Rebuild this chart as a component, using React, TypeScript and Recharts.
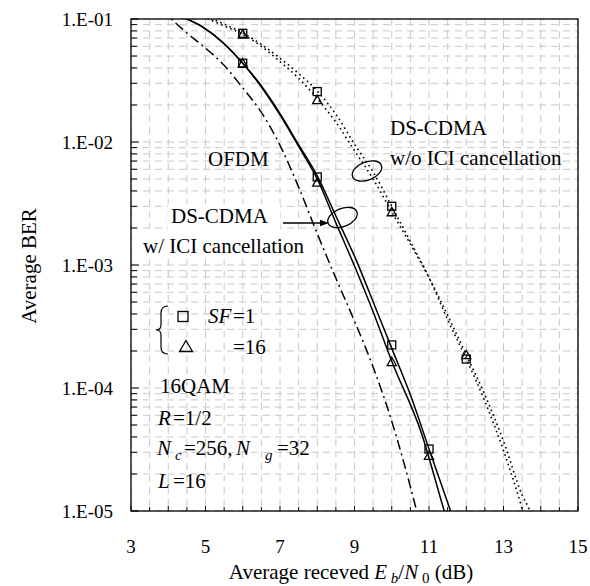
import React from 'react'
import { ComposedChart, Line, Scatter, XAxis, YAxis, CartesianGrid } from 'recharts'

const FONT = "'Liberation Serif', 'Times New Roman', Times, serif"

// plot box in page pixels (margin + axis sizes below give the same box)
const PL = 131
const PT = 19
const PR = 578
const PB = 511

// OFDM (dash-dot)
const ofdmDb = [3.8, 4.5, 5.0, 5.5, 6.0, 6.5, 7.0, 7.5, 8.0, 8.5, 9.0, 9.5, 10.0, 10.3, 10.67, 10.9]
const ofdmBer = [0.12, 0.077, 0.058, 0.042, 0.0275, 0.0174, 0.0094, 0.0043, 0.0018, 0.00078, 0.00035, 0.000148, 0.0000537, 0.0000263, 0.00001, 0.0000053]

// DS-CDMA w/ ICI cancellation (solid)
const icSf1Db = [4.0, 4.3, 4.9, 5.5, 6.0, 6.5, 7.0, 7.5, 8.0, 8.5, 9.0, 9.55, 10.0, 10.5, 11.0, 11.58, 11.8]
const icSf1Ber = [0.12, 0.107, 0.087, 0.063, 0.0437, 0.0285, 0.017, 0.0095, 0.0053, 0.0025, 0.00118, 0.00046, 0.00021, 0.000088, 0.000032, 0.00001, 0.0000065]
const icSf16Db = [4.0, 4.3, 4.9, 5.5, 6.0, 6.5, 7.0, 7.5, 8.0, 8.5, 9.0, 9.55, 10.0, 10.8, 11.41, 11.6]
const icSf16Ber = [0.12, 0.107, 0.087, 0.063, 0.0437, 0.028, 0.0166, 0.0092, 0.005, 0.0022, 0.00098, 0.00038, 0.000165, 0.0000427, 0.00001, 0.0000065]

// DS-CDMA w/o ICI cancellation (dotted)
const noSf1Db = [4.9, 5.5, 6.0, 6.5, 7.0, 7.5, 8.0, 8.5, 9.0, 9.5, 10.0, 10.5, 11.0, 11.5, 12.0, 12.5, 13.0, 13.5, 13.7]
const noSf1Ber = [0.108, 0.091, 0.077, 0.062, 0.048, 0.036, 0.026, 0.0168, 0.0096, 0.0057, 0.003, 0.00155, 0.00079, 0.00036, 0.000172, 0.000078, 0.000031, 0.0000105, 0.0000065]
const noSf16Db = [4.8, 5.5, 6.0, 6.5, 7.0, 7.5, 8.0, 8.5, 9.0, 9.5, 10.0, 10.5, 11.0, 11.5, 12.0, 12.5, 13.0, 13.5, 13.71, 13.9]
const noSf16Ber = [0.108, 0.088, 0.075, 0.06, 0.045, 0.033, 0.0225, 0.0145, 0.0085, 0.005, 0.0027, 0.00148, 0.00079, 0.00039, 0.000186, 0.000088, 0.000037, 0.0000135, 0.00001, 0.0000065]

// simulated points
const sqIcDb = [6, 8, 10, 11]
const sqIcBer = [0.0437, 0.0052, 0.000224, 0.0000319]
const triIcDb = [6, 8, 10, 11]
const triIcBer = [0.0437, 0.0047, 0.000163, 0.0000282]
const sqNoDb = [6, 8, 10, 12]
const sqNoBer = [0.0765, 0.0257, 0.003, 0.000172]
const triNoDb = [6, 8, 10, 12]
const triNoBer = [0.075, 0.022, 0.0027, 0.000186]

const xTicks: number[] = []
for (let v = 3; v <= 15; v += 0.5) xTicks.push(v)
const yTicks: number[] = []
for (let e = -5; e <= -2; e++) for (let m = 1; m <= 9; m++) yTicks.push(Number((m * Math.pow(10, e)).toPrecision(3)))
yTicks.push(0.1)

const pts = (xs: number[], ys: number[]) => xs.map((x, i) => ({ x, y: ys[i] }))

const YTick = (props: any) => {
  const { y, payload } = props
  const e = Math.log10(payload.value)
  const major = Math.abs(e - Math.round(e)) < 1e-6
  return (
    <g>
      <line x1={PL} x2={PL + (major ? 8 : 6)} y1={y} y2={y} stroke="#000" strokeWidth={1} />
      {major && (
        <text x={113} y={y + 6.5} textAnchor="end" fontSize={19} fontFamily={FONT} fill="#000">
          {`1.E-0${-Math.round(e)}`}
        </text>
      )}
    </g>
  )
}

const XTick = (props: any) => {
  const { x, payload } = props
  const v = payload.value
  const whole = Number.isInteger(v)
  return (
    <g>
      <line x1={x} x2={x} y1={PB} y2={PB - (whole ? 5 : 4)} stroke="#000" strokeWidth={1} />
      {whole && v % 2 === 1 && (
        <text x={x} y={553} textAnchor="middle" fontSize={19} fontFamily={FONT} fill="#000">
          {v}
        </text>
      )}
    </g>
  )
}

const SquareMark = (p: any) => (
  <rect x={p.cx - 4} y={p.cy - 4} width={8} height={8} fill="none" stroke="#000" strokeWidth={1.3} />
)
const TriMark = (p: any) => (
  <path
    d={`M${p.cx},${p.cy - 4.6} L${p.cx + 4.6},${p.cy + 3.8} L${p.cx - 4.6},${p.cy + 3.8} Z`}
    fill="none"
    stroke="#000"
    strokeWidth={1.3}
  />
)

function Notes() {
  const t = { fontFamily: FONT, fontSize: 21, fill: '#000' }
  const sub = { fontSize: 15, fontStyle: 'italic' as const }
  return (
    <svg width={590} height={586} style={{ position: 'absolute', left: 0, top: 0, pointerEvents: 'none' }}>
      <rect x={PL} y={PT} width={PR - PL} height={PB - PT} fill="none" stroke="#000" strokeWidth={1.3} />

      {/* white boxes behind the left label */}
      <rect x={168} y={204} width={112} height={25} fill="#fff" />
      <rect x={140} y={229} width={165} height={29} fill="#fff" />

      <text {...t} x={208} y={166}>OFDM</text>

      <text {...t} x={390} y={135}>DS-CDMA</text>
      <text {...t} x={390} y={165}>w/o ICI cancellation</text>
      <ellipse cx={367} cy={171} rx={15.5} ry={9} transform="rotate(-22 367 171)" fill="none" stroke="#000" strokeWidth={1.3} />

      <text {...t} x={171} y={223}>DS-CDMA</text>
      <text {...t} x={143} y={253}>w/ ICI cancellation</text>
      <line x1={283} y1={223} x2={322} y2={223} stroke="#000" strokeWidth={1.3} />
      <path d="M329,223 L320,219.8 L320,226.2 Z" fill="#000" />
      <ellipse cx={342.5} cy={217.5} rx={15.5} ry={9} transform="rotate(-22 342.5 217.5)" fill="none" stroke="#000" strokeWidth={1.3} />

      {/* marker legend */}
      <path d="M168,306 Q161,306 161,313 L161,325 Q161,330 156,330 Q161,330 161,335 L161,347 Q161,354 168,354" fill="none" stroke="#000" strokeWidth={1.2} />
      <rect x={178} y={311.5} width={10} height={10} fill="none" stroke="#000" strokeWidth={1.3} />
      <path d="M186,340.5 L192.5,351.5 L179.5,351.5 Z" fill="none" stroke="#000" strokeWidth={1.3} />
      <text {...t} x={208} y={323}>
        <tspan fontStyle="italic">SF</tspan>
        <tspan x={233}>=1</tspan>
      </text>
      <text {...t} x={233} y={354}>=16</text>

      {/* parameters */}
      <text {...t} x={160} y={393}>16QAM</text>
      <text {...t} x={158} y={425}>
        <tspan fontStyle="italic">R</tspan>
        <tspan x={173}>=1/2</tspan>
      </text>
      <text {...t} x={157} y={455}>
        <tspan fontStyle="italic">N</tspan>
        <tspan x={175} dy={5} {...sub}>c</tspan>
        <tspan x={184} dy={-5}>=256,</tspan>
        <tspan x={236} fontStyle="italic">N</tspan>
        <tspan x={265} dy={5} {...sub}>g</tspan>
        <tspan x={277} dy={-5}>=32</tspan>
      </text>
      <text {...t} x={158} y={488}>
        <tspan fontStyle="italic">L</tspan>
        <tspan x={173}>=16</tspan>
      </text>

      {/* axis titles */}
      <text {...t} x={351} y={579} textAnchor="middle">
        Average receved <tspan fontStyle="italic">E</tspan>
        <tspan dy={4} {...sub}> b</tspan>
        <tspan dy={-4}>/</tspan>
        <tspan fontStyle="italic">N</tspan>
        <tspan dy={4} fontSize={15}> 0</tspan>
        <tspan dy={-4}> (dB)</tspan>
      </text>
      <text {...t} x={0} y={0} textAnchor="middle" transform="translate(36 266) rotate(-90)">
        Average BER
      </text>
    </svg>
  )
}

export default function App() {
  return (
    <div style={{ position: 'absolute', left: 0, top: 0, width: 590, height: 586, background: '#fff' }}>
      <ComposedChart width={590} height={586} margin={{ top: PT, right: 590 - PR, left: 11, bottom: 15 }}>
        <CartesianGrid stroke="#c8c8c8" strokeDasharray="7 5" strokeWidth={1} />
        <XAxis
          type="number"
          dataKey="x"
          domain={[3, 15]}
          ticks={xTicks}
          interval={0}
          allowDataOverflow
          height={60}
          axisLine={false}
          tickLine={false}
          tick={XTick}
        />
        <YAxis
          type="number"
          dataKey="y"
          scale="log"
          domain={[0.00001, 0.1]}
          ticks={yTicks}
          interval={0}
          allowDataOverflow
          width={120}
          axisLine={false}
          tickLine={false}
          tick={YTick}
        />
        <Line data={pts(ofdmDb, ofdmBer)} dataKey="y" type="monotone" stroke="#000" strokeWidth={1.5} strokeDasharray="10 4 2 4" dot={false} isAnimationActive={false} />
        <Line data={pts(icSf1Db, icSf1Ber)} dataKey="y" type="monotone" stroke="#000" strokeWidth={1.5} dot={false} isAnimationActive={false} />
        <Line data={pts(icSf16Db, icSf16Ber)} dataKey="y" type="monotone" stroke="#000" strokeWidth={1.5} dot={false} isAnimationActive={false} />
        <Line data={pts(noSf1Db, noSf1Ber)} dataKey="y" type="monotone" stroke="#000" strokeWidth={1.6} strokeDasharray="1.6 3.4" dot={false} isAnimationActive={false} />
        <Line data={pts(noSf16Db, noSf16Ber)} dataKey="y" type="monotone" stroke="#000" strokeWidth={1.6} strokeDasharray="1.6 3.4" dot={false} isAnimationActive={false} />
        <Scatter data={pts(sqIcDb, sqIcBer)} dataKey="y" shape={SquareMark} isAnimationActive={false} />
        <Scatter data={pts(triIcDb, triIcBer)} dataKey="y" shape={TriMark} isAnimationActive={false} />
        <Scatter data={pts(sqNoDb, sqNoBer)} dataKey="y" shape={SquareMark} isAnimationActive={false} />
        <Scatter data={pts(triNoDb, triNoBer)} dataKey="y" shape={TriMark} isAnimationActive={false} />
      </ComposedChart>
      <Notes />
    </div>
  )
}
